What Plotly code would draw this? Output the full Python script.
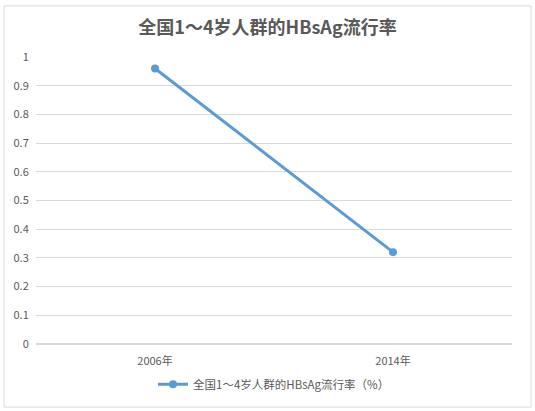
import plotly.graph_objects as go

# HBsAg prevalence among children aged 1-4, China
years = ["2006年", "2014年"]
prevalence = [0.96, 0.32]
series_name = "全国1～4岁人群的HBsAg流行率（%）"
chart_title = "全国1～4岁人群的HBsAg流行率"
y_ticks = [0, 0.1, 0.2, 0.3, 0.4, 0.5, 0.6, 0.7, 0.8, 0.9, 1]

font_cjk = "Noto Sans CJK SC, Microsoft YaHei, sans-serif"
grey = "#595959"

fig = go.Figure()

fig.add_trace(go.Scatter(
    x=years, y=prevalence,
    mode="lines+markers",
    name=series_name,
    line=dict(color="#5b9bd5", width=3),
    marker=dict(color="#5b9bd5", size=8),
))

fig.update_layout(
    width=535, height=411,
    margin=dict(l=36, r=23, t=57, b=67),
    paper_bgcolor="white",
    plot_bgcolor="white",
    title=dict(
        text="<b>" + chart_title + "</b>",
        x=0.5, xanchor="center", y=0.932, yanchor="middle",
        font=dict(family=font_cjk, size=18, color=grey),
    ),
    font=dict(family=font_cjk, size=11, color=grey),
    showlegend=True,
    legend=dict(
        orientation="h", x=0.5, xanchor="center", y=-0.14, yanchor="middle",
        font=dict(size=11.5, color=grey),
    ),
    xaxis=dict(
        type="category", range=[-0.5, 1.5],
        showgrid=False, showline=False,
        ticks="outside", ticklen=7, tickcolor="rgba(0,0,0,0)",
        tickfont=dict(size=11, color=grey),
    ),
    yaxis=dict(
        range=[0, 1], tickvals=y_ticks,
        ticktext=[f"{v:g}" for v in y_ticks],
        showgrid=True, gridcolor="#d9d9d9", gridwidth=1,
        zeroline=True, zerolinecolor="#d9d9d9",
        showline=False, ticks="outside", ticklen=4, tickcolor="rgba(0,0,0,0)",
        tickfont=dict(size=11, color=grey),
    ),
    shapes=[dict(
        type="rect", xref="paper", yref="paper",
        x0=-0.067, x1=1.04, y0=-0.22, y1=1.178,
        line=dict(color="#d9d9d9", width=1),
        fillcolor="rgba(0,0,0,0)", layer="below",
    )],
)

# drop the browser's default body margin so the chart sits at the window corner
fig.write_html(
    "out.html",
    config={"displayModeBar": False},
    post_script="document.body.style.margin='0';",
)
